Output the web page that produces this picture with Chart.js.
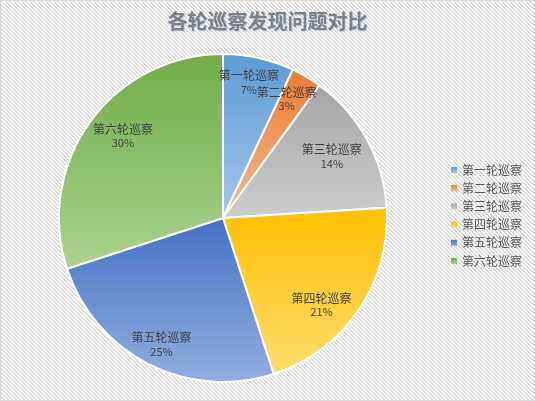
<!DOCTYPE html>
<html>
<head>
<meta charset="utf-8">
<script src="https://cdn.jsdelivr.net/npm/chart.js@4"></script>
<style>
html,body{margin:0;padding:0;background:#fff;}
#wrap{position:relative;width:535px;height:401px;}
canvas{display:block;}
</style>
</head>
<body>
<div id="wrap"><canvas id="c" width="535" height="401"></canvas></div>
<script>
// ---- data ----
const titleText = '各轮巡察发现问题对比';
const categories = ['第一轮巡察','第二轮巡察','第三轮巡察','第四轮巡察','第五轮巡察','第六轮巡察'];
const values = [7, 3, 14, 21, 25, 30];

// ---- styles ----
const topColors = ['#5B9BD5','#ED7D31','#A5A5A5','#FFC000','#4472C4','#70AD47'];
const bottomColors = ['#A4C8EA','#F6B890','#CDCDCD','#FFDC70','#92AEE0','#AAD28E'];
const labelAngleShift = [-1.8,-2.5,-0.9,7.1,-1.0,3.4]; // degrees
const labelRadiusFrac = [0.842,0.824,0.764,0.80,0.856,0.79];
const FONT = '"Noto Sans CJK SC","Noto Sans",sans-serif';

function arcYRange(cy, r, a, b){
  let ys = [cy, cy + r*Math.sin(a), cy + r*Math.sin(b)];
  const TAU = Math.PI*2;
  [-Math.PI/2, Math.PI/2].forEach(t=>{
    for (let k=-2;k<=2;k++){ const tt=t+k*TAU; if (tt>=a && tt<=b) ys.push(cy + r*Math.sin(tt)); }
  });
  return [Math.min(...ys), Math.max(...ys)];
}

function sliceFill(ctx){
  const chart = ctx.chart;
  const i = ctx.dataIndex;
  const ca = chart.chartArea;
  if (!ca) return topColors[i];
  const total = values.reduce((s,v)=>s+v,0);
  let cum = 0; for (let k=0;k<i;k++) cum += values[k];
  const a = -Math.PI/2 + cum/total*Math.PI*2;
  const b = a + values[i]/total*Math.PI*2;
  const cy = (ca.top+ca.bottom)/2;
  const r = Math.min(ca.width, ca.height)/2;
  const [y0,y1] = arcYRange(cy, r, a, b);
  const g = chart.ctx.createLinearGradient(0, y0, 0, y1);
  g.addColorStop(0, topColors[i]);
  g.addColorStop(1, bottomColors[i]);
  return g;
}

const bgPlugin = {
  id:'bg',
  beforeDraw(chart){
    const c = chart.ctx;
    const p = document.createElement('canvas');
    p.width = 4; p.height = 4;
    const pc = p.getContext('2d');
    pc.fillStyle = '#ffffff'; pc.fillRect(0,0,4,4);
    pc.fillStyle = '#dadada';
    for (let y=0;y<4;y++){ for (let x=0;x<4;x++){ const d=((x-y)%4+4)%4; if (d<2) pc.fillRect(x,y,1,1);} }
    c.save();
    c.fillStyle = c.createPattern(p,'repeat');
    c.fillRect(0,0,chart.width,chart.height);
    c.strokeStyle = '#d9d9d9'; c.lineWidth = 1;
    c.strokeRect(0.5,0.5,chart.width-1,chart.height-1);
    // title
    c.font = 'bold 20px ' + FONT;
    c.textAlign = 'center'; c.textBaseline = 'middle';
    c.fillStyle = 'rgba(150,190,230,0.6)';
    c.fillText(titleText, 268.5, 22.5);
    c.fillStyle = '#808080';
    c.fillText(titleText, 267.5, 21.5);
    c.restore();
  }
};

const labelPlugin = {
  id:'labels',
  afterDatasetsDraw(chart){
    const c = chart.ctx;
    const meta = chart.getDatasetMeta(0);
    const total = values.reduce((s,v)=>s+v,0);
    c.save();
    c.textAlign = 'center'; c.textBaseline = 'middle';
    c.fillStyle = '#404040';
    meta.data.forEach((el,i)=>{
      const p = el.getProps(['x','y','startAngle','endAngle','outerRadius'], true);
      const mid = (p.startAngle+p.endAngle)/2 + labelAngleShift[i]*Math.PI/180;
      const rr = p.outerRadius*labelRadiusFrac[i];
      const x = p.x + rr*Math.cos(mid);
      const y = p.y + rr*Math.sin(mid);
      c.font = '12px ' + FONT;
      c.fillText(categories[i], x, y-6.5);
      c.font = '11px ' + FONT;
      c.fillText(Math.round(values[i]/total*100)+'%', x, y+7.5);
    });
    // legend
    c.textAlign = 'left';
    c.font = '12px ' + FONT;
    const lx = 451, ly0 = 170, step = 18.2;
    categories.forEach((name,i)=>{
      const y = ly0 + i*step;
      const g = c.createLinearGradient(0, y-3, 0, y+3);
      g.addColorStop(0, topColors[i]); g.addColorStop(1, bottomColors[i]);
      c.fillStyle = g;
      c.fillRect(lx, y-3, 6, 6);
      c.fillStyle = '#595959';
      c.fillText(name, 462, y);
    });
    c.restore();
  }
};

new Chart(document.getElementById('c'), {
  type:'pie',
  data:{
    labels: categories,
    datasets:[{
      data: values,
      backgroundColor: sliceFill,
      borderColor:'#ffffff',
      borderWidth:2
    }]
  },
  options:{
    responsive:false,
    animation:false,
    layout:{padding:{top:53,bottom:18,left:57,right:146}},
    plugins:{legend:{display:false}, title:{display:false}, tooltip:{enabled:false}}
  },
  plugins:[bgPlugin,labelPlugin]
});
</script>
</body>
</html>
